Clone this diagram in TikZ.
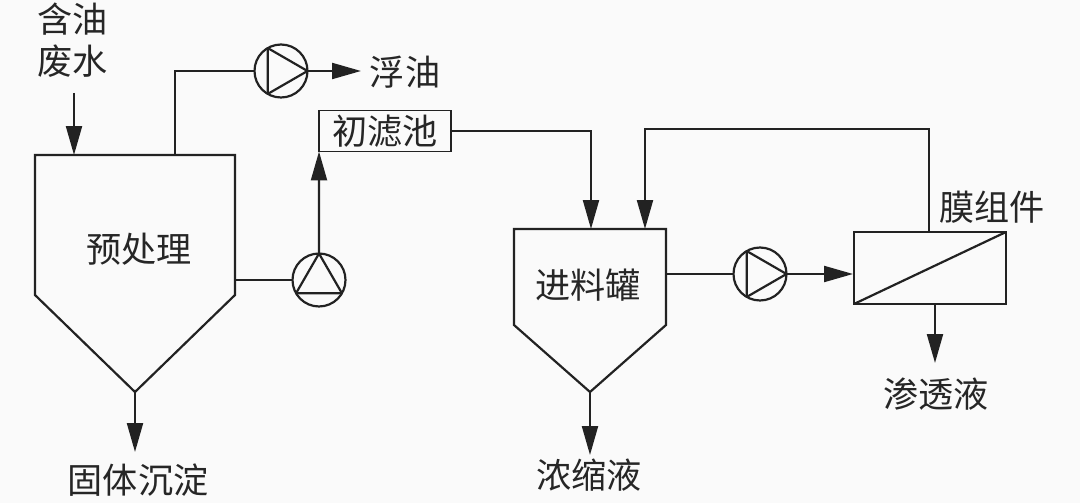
\documentclass[tikz,border=0pt]{standalone}
\usepackage{fontspec}
\setmainfont{Noto Sans CJK SC}[Scale=1]
\usetikzlibrary{arrows.meta,positioning,calc}
\definecolor{line gray}{HTML}{222222}
\definecolor{paper}{HTML}{FAFAFA}
\tikzstyle{pipe} = [draw=line gray,line width=1.25pt]
\tikzstyle{flow} = [pipe,-{Triangle[length=0.58cm,width=0.32cm]}]
\tikzstyle{pump} = [draw=line gray,line width=1.25pt,circle,inner sep=0pt,outer sep=0pt,minimum size=1.06cm]
\tikzstyle{label} = [inner sep=0pt,font=\fontsize{20pt}{24pt}\selectfont,text=black!85]
\begin{document}
\begin{tikzpicture}[x=0.02cm,y=-0.02cm]
		\path[fill=paper,use as bounding box] (0,0) rectangle (1080,503);
		\coordinate (t1a) at (35,155);
		\coordinate (t1b) at (235,155);
		\coordinate (t1c) at (235,295);
		\coordinate (t1d) at (135,392);
		\coordinate (t1e) at (35,295);
		\draw[pipe,line join=miter] (t1a) -- (t1b) -- (t1c) -- (t1d) -- (t1e) -- cycle;
		\coordinate (t2a) at (514,229);
		\coordinate (t2b) at (666,229);
		\coordinate (t2c) at (666,325);
		\coordinate (t2d) at (590,392);
		\coordinate (t2e) at (514,325);
		\draw[pipe,line join=miter] (t2a) -- (t2b) -- (t2c) -- (t2d) -- (t2e) -- cycle;
		\node[label] (pre) at (139,249) {预处理};
		\node[label] (feed) at (588,285) {进料罐};
		\node[pump] (p1) at (281,71) {};
		\node[pump] (p2) at (319,280) {};
		\node[pump] (p3) at (760,274) {};
		\draw[pipe,line join=round] (p1.east) -- (p1.120) -- (p1.240) -- cycle;
		\draw[pipe,line join=round] (p2.north) -- (p2.210) -- (p2.330) -- cycle;
		\draw[pipe,line join=round] (p3.east) -- (p3.120) -- (p3.240) -- cycle;
		\node[draw=line gray,line width=0.9pt,inner sep=0pt,outer sep=0pt,minimum width=2.64cm,minimum height=0.82cm,label] (filter) at (385,131) {初滤池};
		\node[draw=line gray,line width=1.25pt,outer sep=0pt,minimum width=3.04cm,minimum height=1.44cm] (mem) at (930,268) {};
		\draw[pipe] (mem.south west) -- (mem.north east);
		\node[label,align=center] (oily) at (73,40) {含油\\废水};
		\node[label] (oil) at (405,72) {浮油};
		\node[label] (memlabel) at (992,207) {膜组件};
		\node[label] (perm) at (936,394) {渗透液};
		\node[label] (solid) at (138,480) {固体沉淀};
		\node[label] (conc) at (589,475) {浓缩液};
		\coordinate (in) at (74,93);
		\coordinate (intop) at (74,155);
		\coordinate (oilout) at (175,155);
		\coordinate (oilend) at (361,71);
		\coordinate (solidend) at (135,452);
		\coordinate (concend) at (590,455);
		\coordinate (permout) at (935,304);
		\coordinate (permend) at (935,363);
		\coordinate (backout) at (929,232);
		\coordinate (backin) at (645,229);
		\coordinate (tofeed) at (591,229);
		\coordinate (memin) at (853,274);
		\draw[flow] (in) to (intop);
		\draw[pipe] (oilout) |- (p1);
		\draw[flow] (p1.east) to (oilend);
		\draw[pipe] (235,280) to (p2);
		\draw[flow] (p2.north) to (filter.south west);
		\draw[flow] (filter.east) -| (tofeed);
		\draw[pipe] (666,274) to (p3);
		\draw[flow] (p3.east) to (memin);
		\draw[flow] (backout) |- (645,129) to (backin);
		\draw[flow] (permout) to (permend);
		\draw[flow] (t1d) to (solidend);
		\draw[flow] (t2d) to (concend);
	\end{tikzpicture}
\end{document}
